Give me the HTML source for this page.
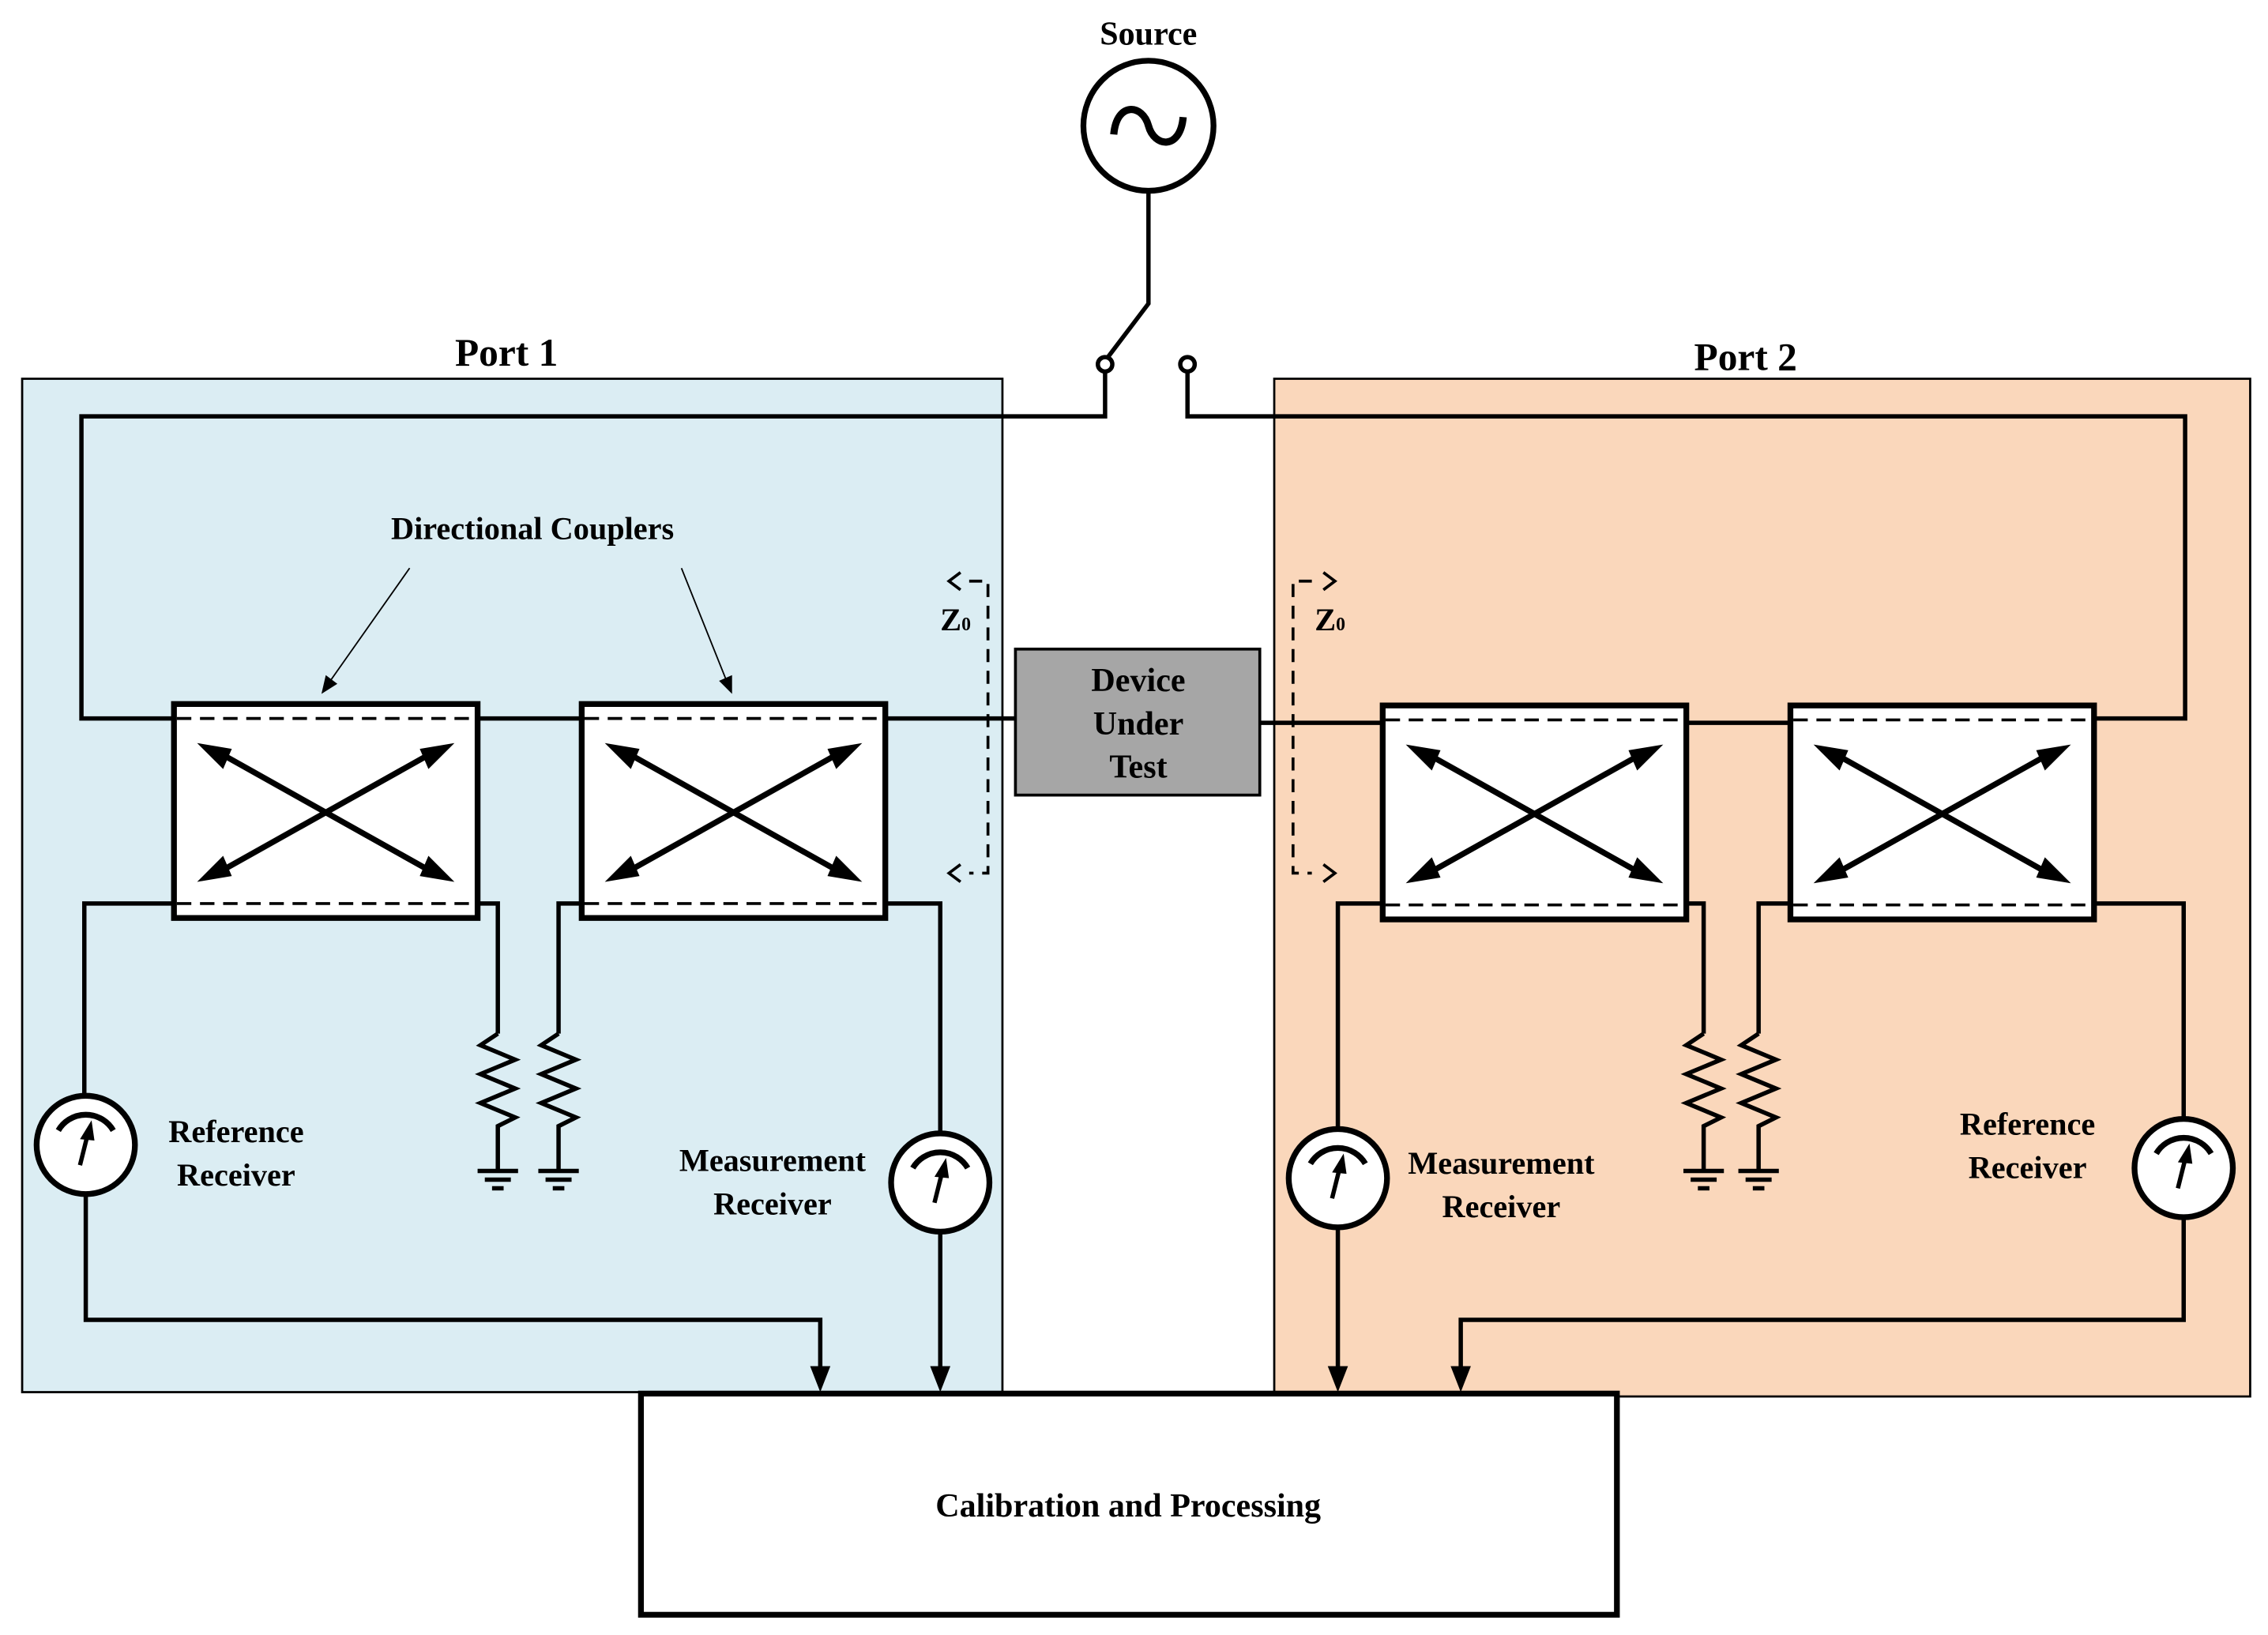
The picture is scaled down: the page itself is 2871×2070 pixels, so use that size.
<!DOCTYPE html>
<html><head><meta charset="utf-8"><style>html,body{margin:0;padding:0;background:#fff}svg{display:block}text{font-family:"Liberation Serif",serif;font-weight:bold;fill:#000}</style></head><body>
<svg width="2871" height="2070" viewBox="0 0 1568 1131" xmlns="http://www.w3.org/2000/svg">
<defs>
<g id="cp">
<rect x="0" y="0" width="210" height="148" fill="#fff" stroke="#000" stroke-width="4"/>
<line x1="2" y1="10" x2="208" y2="10" stroke="#000" stroke-width="2" stroke-dasharray="10,6"/>
<line x1="2" y1="138" x2="208" y2="138" stroke="#000" stroke-width="2" stroke-dasharray="10,6"/>
<line x1="30" y1="33" x2="180" y2="117" stroke="#000" stroke-width="4"/>
<line x1="180" y1="33" x2="30" y2="117" stroke="#000" stroke-width="4"/>
<polygon points="16,27 34,45 40,31" fill="#000"/>
<polygon points="194,123 176,105 170,119" fill="#000"/>
<polygon points="194,27 176,45 170,31" fill="#000"/>
<polygon points="16,123 34,105 40,119" fill="#000"/>
</g>
<g id="mt">
<circle cx="0" cy="0" r="34" fill="#fff" stroke="#000" stroke-width="4"/>
<path d="M-19,-10 A22,22 0 0 1 19,-10" fill="none" stroke="#000" stroke-width="4"/>
<line x1="-4" y1="14" x2="1" y2="-6" stroke="#000" stroke-width="3"/>
<polygon points="4,-17 -4,-4 6,-3" fill="#000"/>
</g>
<g id="rg" fill="none" stroke="#000" stroke-width="3">
<polyline points="0,0 -12,8 12,18 -12,28 12,38 -12,48 12,58 0,64 0,95"/>
<line x1="-14" y1="95" x2="14" y2="95"/><line x1="-9" y1="101" x2="9" y2="101"/><line x1="-4" y1="107" x2="4" y2="107"/>
</g>
</defs>
<rect x="15" y="262" width="678" height="701" fill="#dbedf3" stroke="#000" stroke-width="1.5"/>
<rect x="881" y="262" width="675" height="704" fill="#fad7bb" stroke="#000" stroke-width="1.5"/>
<text x="794" y="31" font-size="23" text-anchor="middle">Source</text>
<text x="350" y="253" font-size="27" text-anchor="middle">Port 1</text>
<text x="1207" y="256" font-size="27" text-anchor="middle">Port 2</text>
<circle cx="794" cy="87" r="45" fill="#fff" stroke="#000" stroke-width="4"/>
<path d="M770,93 C772,70 790,72 794,87 C798,102 816,104 818,81" fill="none" stroke="#000" stroke-width="5"/>
<g fill="none" stroke="#000" stroke-width="3">
<polyline points="794,132 794,210 766,247"/>
<polyline points="764,257 764,288 56,288 56,497 120,497"/>
<polyline points="821,257 821,288 1511,288 1511,497 1447,497"/>
<line x1="330" y1="497" x2="402" y2="497"/><line x1="613" y1="497" x2="702" y2="497"/>
<line x1="871" y1="500" x2="956" y2="500"/><line x1="1165" y1="500" x2="1238" y2="500"/>
<polyline points="120,625 58,625 58,758"/>
<polyline points="330,625 344,625 344,715"/>
<polyline points="402,625 386,625 386,715"/>
<polyline points="613,625 650,625 650,783"/>
<polyline points="956,625 925,625 925,781"/>
<polyline points="1165,625 1178,625 1178,715"/>
<polyline points="1238,625 1216,625 1216,715"/>
<polyline points="1447,625 1510,625 1510,773"/>
<polyline points="59,827 59,913 567,913 567,950"/>
<polyline points="650,853 650,950"/>
<polyline points="925,850 925,950"/>
<polyline points="1510,843 1510,913 1010,913 1010,950"/>
</g>
<g fill="#000">
<polygon points="560,945 574,945 567,963"/>
<polygon points="643,945 657,945 650,963"/>
<polygon points="918,945 932,945 925,963"/>
<polygon points="1003,945 1017,945 1010,963"/>
</g>
<circle cx="764" cy="252" r="5" fill="#fff" stroke="#000" stroke-width="3"/>
<circle cx="821" cy="252" r="5" fill="#fff" stroke="#000" stroke-width="3"/>
<use href="#cp" x="120" y="487"/><use href="#cp" x="402" y="487"/>
<use href="#cp" x="956" y="488"/><use href="#cp" x="1238" y="488"/>
<use href="#rg" x="344" y="715"/><use href="#rg" x="386" y="715"/>
<use href="#rg" x="1178" y="715"/><use href="#rg" x="1216" y="715"/>
<use href="#mt" x="59" y="792"/><use href="#mt" x="650" y="818"/>
<use href="#mt" x="925" y="815"/><use href="#mt" x="1510" y="808"/>
<rect x="702" y="449" width="169" height="101" fill="#a6a6a6" stroke="#000" stroke-width="2"/>
<text font-size="23" text-anchor="middle"><tspan x="787" y="478">Device</tspan><tspan x="787" y="508">Under</tspan><tspan x="787" y="538">Test</tspan></text>
<text x="368" y="373" font-size="22" text-anchor="middle">Directional Couplers</text>
<line x1="283" y1="393" x2="226" y2="474" stroke="#000" stroke-width="1"/>
<line x1="471" y1="393" x2="503" y2="473" stroke="#000" stroke-width="1"/>
<polygon points="222,480 233,473 225,467" fill="#000"/>
<polygon points="506,480 497,471 506,467" fill="#000"/>
<g fill="none" stroke="#000" stroke-width="2" stroke-dasharray="9,6">
<polyline points="670,402 683,402 683,604 670,604"/>
<polyline points="907,402 894,402 894,604 907,604"/>
</g>
<g fill="none" stroke="#000" stroke-width="2">
<polyline points="664,396 656,402 664,408"/><polyline points="664,598 656,604 664,610"/>
<polyline points="915,396 923,402 915,408"/><polyline points="915,598 923,604 915,610"/>
</g>
<text x="650" y="436" font-size="22">Z<tspan font-size="13">0</tspan></text>
<text x="909" y="436" font-size="22">Z<tspan font-size="13">0</tspan></text>
<text font-size="22" text-anchor="middle"><tspan x="163" y="790">Reference</tspan><tspan x="163" y="820">Receiver</tspan></text>
<text font-size="22" text-anchor="middle"><tspan x="534" y="810">Measurement</tspan><tspan x="534" y="840">Receiver</tspan></text>
<text font-size="22" text-anchor="middle"><tspan x="1038" y="812">Measurement</tspan><tspan x="1038" y="842">Receiver</tspan></text>
<text font-size="22" text-anchor="middle"><tspan x="1402" y="785">Reference</tspan><tspan x="1402" y="815">Receiver</tspan></text>
<rect x="443" y="964" width="675" height="153" fill="#fff" stroke="#000" stroke-width="4"/>
<text x="780" y="1049" font-size="23" text-anchor="middle">Calibration and Processing</text>
</svg>
</body></html>
